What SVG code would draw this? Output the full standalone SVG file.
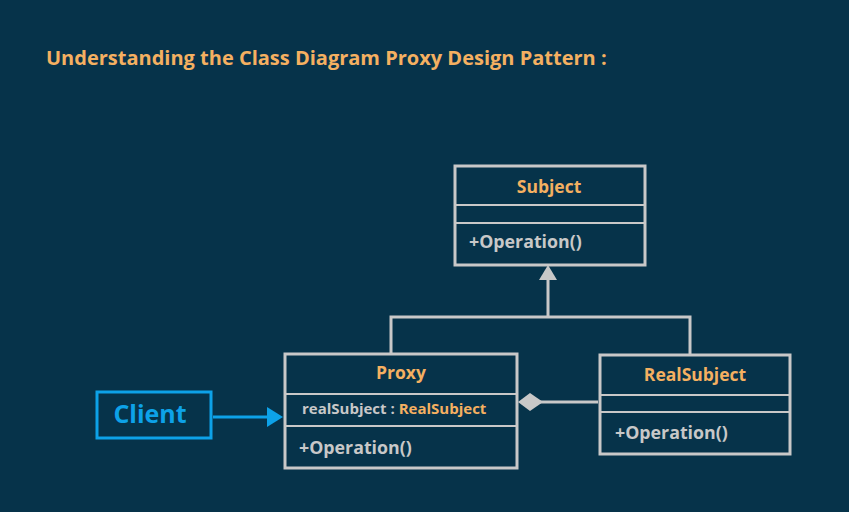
<svg xmlns="http://www.w3.org/2000/svg" width="849" height="512" viewBox="0 0 849 512">
<style>
.box{fill:#06334a;stroke:#c8c8c8;stroke-width:3}
.div{stroke:#c8c8c8;stroke-width:2}
.t{font-family:"Open Sans","Noto Sans",sans-serif;font-weight:bold}
.name{fill:#f4b061;font-size:17.5px;text-anchor:middle}
.op{fill:#c8c8c8;font-size:17.8px}
.ln{fill:none;stroke:#c8c8c8;stroke-width:3}
</style>
<rect width="849" height="512" fill="#06334a"/>
<text class="t" x="46" y="65" fill="#f4b061" font-size="20">Understanding the Class Diagram Proxy Design Pattern :</text>
<g id="connectors">
<polyline class="ln" points="391,354 391,317 690,317 690,355"/>
<line class="ln" x1="548" y1="317" x2="548" y2="278"/>
<polygon points="548,265 539,280 557,280" fill="#c8c8c8"/>
<line class="ln" x1="540" y1="402" x2="598" y2="402"/>
<polygon points="518,402 530,393 543,402 530,411" fill="#c8c8c8"/>
<line x1="213" y1="417" x2="270" y2="417" stroke="#0da2e8" stroke-width="3"/>
<polygon points="283,417 267,407 267,427" fill="#0da2e8"/>
</g>
<g id="subject">
<rect class="box" x="455" y="166" width="190" height="99"/>
<line class="div" x1="455" y1="205" x2="645" y2="205"/>
<line class="div" x1="455" y1="223" x2="645" y2="223"/>
<text class="t name" x="549" y="193">Subject</text>
<text class="t op" x="469" y="248">+Operation()</text>
</g>
<g id="proxy">
<rect class="box" x="285" y="354" width="232" height="114"/>
<line class="div" x1="285" y1="394" x2="517" y2="394"/>
<line class="div" x1="285" y1="426" x2="517" y2="426"/>
<text class="t name" x="401" y="379">Proxy</text>
<text class="t" x="302" y="414" font-size="15" fill="#c8c8c8">realSubject : <tspan fill="#f4b061">RealSubject</tspan></text>
<text class="t op" x="299" y="454">+Operation()</text>
</g>
<g id="realsubject">
<rect class="box" x="600" y="355" width="190" height="99"/>
<line class="div" x1="600" y1="395" x2="790" y2="395"/>
<line class="div" x1="600" y1="412" x2="790" y2="412"/>
<text class="t name" x="695" y="381">RealSubject</text>
<text class="t op" x="615" y="439">+Operation()</text>
</g>
<g id="client">
<rect x="97" y="392" width="114" height="46" fill="none" stroke="#0da2e8" stroke-width="3"/>
<text class="t" x="150" y="423" font-size="25" fill="#0da2e8" text-anchor="middle">Client</text>
</g>
</svg>
